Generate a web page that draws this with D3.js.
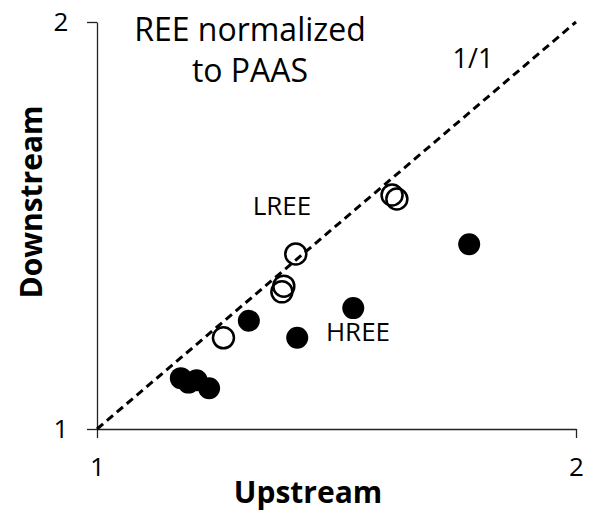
<!DOCTYPE html>
<html>
<head>
<meta charset="utf-8">
<script src="https://cdn.jsdelivr.net/npm/d3@7"></script>
<style>
  body { margin: 0; background: #fff; }
  svg text { font-family: "Open Sans", Lato, sans-serif; fill: #000; }
</style>
</head>
<body>
<div id="stage"></div>
<script>
// light REE (open circles), upstream vs downstream
var lree_up = [1.616, 1.626, 1.415, 1.390, 1.386, 1.264];
var lree_down = [1.575, 1.565, 1.430, 1.351, 1.337, 1.224];
// heavy REE (filled circles)
var hree_up = [1.777, 1.535, 1.317, 1.418, 1.175, 1.191, 1.208, 1.234];
var hree_down = [1.454, 1.297, 1.266, 1.224, 1.125, 1.114, 1.120, 1.100];
var tick_vals = [1, 2];

var stage_width = 596;
var stage_height = 513;

build_scene();

function build_scene() {
  var margin = { top: 22, right: 20, bottom: 84, left: 97 },
    chart_width = stage_width - margin.left - margin.right,
    chart_height = stage_height - margin.top - margin.bottom;

  var x = d3.scaleLinear().domain([1, 2]).range([0, chart_width]);
  var y = d3.scaleLinear().domain([1, 2]).range([chart_height, 0]);

  var svg = d3.select("#stage")
    .append("svg")
    .attr("width", stage_width)
    .attr("height", stage_height)
    .append("g")
    .attr("transform", "translate(" + margin.left + "," + margin.top + ")");

  // axes
  var x_axis = svg.append("g")
    .attr("transform", "translate(0," + chart_height + ")")
    .call(d3.axisBottom(x).tickValues(tick_vals).tickFormat(d3.format("d")).tickSize(9).tickSizeOuter(0));
  var y_axis = svg.append("g")
    .call(d3.axisLeft(y).tickValues(tick_vals).tickFormat(d3.format("d")).tickSize(10).tickSizeOuter(0));
  [x_axis, y_axis].forEach(function(a) {
    a.select(".domain").attr("stroke", "#222").attr("stroke-width", 1.3);
    a.selectAll(".tick line").attr("stroke", "#222").attr("stroke-width", 1.3);
    a.selectAll(".tick text").style("font-size", "26px").style("font-family", "'Open Sans', sans-serif");
  });
  x_axis.selectAll(".tick text").attr("y", 29).attr("dy", "0.71em");
  y_axis.selectAll(".tick text").attr("x", -36).attr("text-anchor", "middle");

  // 1/1 line
  svg.append("line")
    .attr("x1", x(1)).attr("y1", y(1))
    .attr("x2", x(2)).attr("y2", y(2))
    .attr("stroke", "#000")
    .attr("stroke-width", 3)
    .attr("stroke-dasharray", "8,5");

  // HREE
  svg.selectAll(".hree")
    .data(hree_up)
    .enter()
    .append("circle")
    .attr("class", "hree")
    .attr("cx", function(d) { return x(d); })
    .attr("cy", function(d, i) { return y(hree_down[i]); })
    .attr("r", 11)
    .attr("fill", "#000");

  // LREE
  svg.selectAll(".lree")
    .data(lree_up)
    .enter()
    .append("circle")
    .attr("class", "lree")
    .attr("cx", function(d) { return x(d); })
    .attr("cy", function(d, i) { return y(lree_down[i]); })
    .attr("r", 10.5)
    .attr("fill", "none")
    .attr("stroke", "#000")
    .attr("stroke-width", 2.5);

  // labels
  svg.append("text").attr("x", 153).attr("y", 19).attr("text-anchor", "middle")
    .style("font-size", "32px").text("REE normalized");
  svg.append("text").attr("x", 153).attr("y", 60).attr("text-anchor", "middle")
    .style("font-size", "32px").text("to PAAS");
  svg.append("text").attr("x", 376).attr("y", 46).attr("text-anchor", "middle")
    .style("font-size", "27px").text("1/1");
  svg.append("text").attr("x", 185).attr("y", 193).attr("text-anchor", "middle")
    .style("font-size", "26px").text("LREE");
  svg.append("text").attr("x", 261).attr("y", 319).attr("text-anchor", "middle")
    .style("font-size", "26px").text("HREE");

  // axis titles
  svg.append("text").attr("x", 211).attr("y", chart_height + 74)
    .attr("text-anchor", "middle").style("font-size", "30px").style("font-weight", "bold")
    .text("Upstream");
  svg.append("text")
    .attr("transform", "translate(" + (-55) + "," + 180 + ") rotate(-90)")
    .attr("text-anchor", "middle").style("font-size", "30px").style("font-weight", "bold")
    .text("Downstream");
}
</script>
</body>
</html>
